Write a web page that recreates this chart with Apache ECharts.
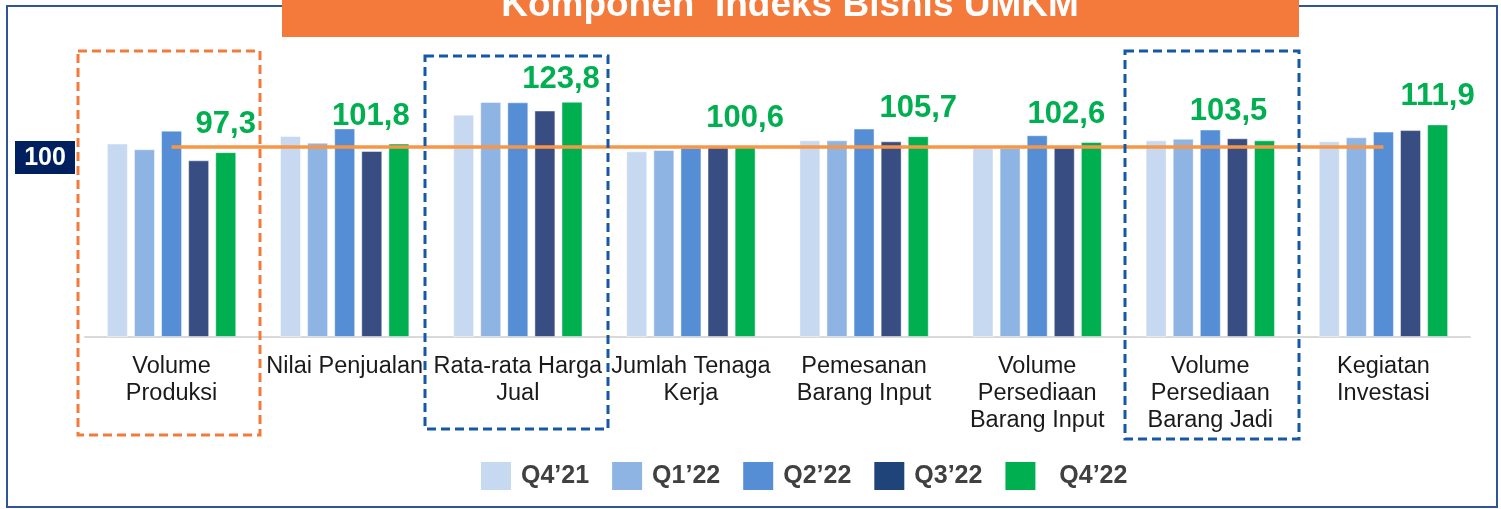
<!DOCTYPE html>
<html>
<head>
<meta charset="utf-8">
<script src="https://cdn.jsdelivr.net/npm/echarts@6/dist/echarts.min.js"></script>
<style>
  html, body { margin: 0; padding: 0; background: #fff; }
  #chart { width: 1501px; height: 509px; }
</style>
</head>
<body>
<div id="chart"></div>
<script>
// kategori komponen
var categories = [
    'Volume\nProduksi',
    'Nilai Penjualan',
    'Rata-rata Harga\nJual',
    'Jumlah Tenaga\nKerja',
    'Pemesanan\nBarang Input',
    'Volume\nPersediaan\nBarang Input',
    'Volume\nPersediaan\nBarang Jadi',
    'Kegiatan\nInvestasi'
];
var quarters = ['Q4’21', 'Q1’22', 'Q2’22', 'Q3’22', 'Q4’22'];
var q421 = [101.8, 105.8, 117.0, 97.7, 103.5, 99.5, 103.5, 103.0];
var q122 = [98.8, 102.3, 123.7, 98.4, 103.5, 99.5, 104.4, 105.1];
var q222 = [108.6, 109.8, 123.5, 99.6, 109.7, 106.2, 109.2, 108.1];
var q322 = [93.0, 97.9, 119.2, 99.9, 103.0, 99.7, 104.6, 108.9];
var q422 = [97.3, 101.8, 123.8, 100.6, 105.7, 102.6, 103.5, 111.9];
var baseline = [100, 100, 100, 100, 100, 100, 100, 100];

var barColors = ['#C6D9F1', '#8EB4E3', '#558ED5', '#384D81', '#00B050'];
var legendColors = ['#C6D9F1', '#8EB4E3', '#558ED5', '#1F4479', '#00B050'];
// geser label angka supaya tidak kena kotak putus-putus
var labelShift = [[0, 0], [-28, 0], [-11, 5], [0, 0], [0, 0], [-25, 0], [-36, -1], [0, 0]];

var chart = echarts.init(document.getElementById('chart'));
var font = 'Liberation Sans, Arial, sans-serif';

function fmt(v) {
    return v.toFixed(1).replace('.', ',');
}

var values = [q421, q122, q222, q322, q422];
var series = values.map(function (arr, i) {
    var s = {
        name: quarters[i],
        type: 'bar',
        barWidth: 21,
        barGap: '29%',
        data: arr,
        itemStyle: {
            color: barColors[i],
            borderColor: 'rgba(255,255,255,0.45)',
            borderWidth: 1
        }
    };
    if (i === 4) {
        s.data = arr.map(function (v, j) {
            return { value: v, label: { offset: labelShift[j] } };
        });
        s.label = {
            show: true,
            position: 'top',
            distance: 12,
            color: '#00B050',
            fontFamily: font,
            fontWeight: 'bold',
            fontSize: 31,
            formatter: function (p) { return fmt(p.value); }
        };
    }
    return s;
});
series.push({
    name: 'garis100',
    type: 'line',
    data: baseline,
    symbol: 'none',
    silent: true,
    z: 5,
    lineStyle: { color: '#F79646', width: 3.5 }
});

var option = {
    animation: false,
    textStyle: { fontFamily: font },
    grid: { left: 85, right: 31, top: 90, bottom: 172 },
    legend: {
        left: 481,
        top: 462,
        padding: 0,
        itemWidth: 30,
        itemHeight: 28,
        itemGap: 23,
        data: quarters.map(function (q, i) {
            return { name: q, icon: 'rect', itemStyle: { color: legendColors[i], borderWidth: 0 } };
        }),
        formatter: function (name) {
            return name === 'Q4’22' ? '  ' + name : name;
        },
        textStyle: { fontSize: 25, fontWeight: 'bold', color: '#404040', padding: [0, 0, 0, 5] }
    },
    xAxis: {
        type: 'category',
        data: categories,
        axisLine: { lineStyle: { color: '#D9D9D9', width: 2 } },
        axisTick: { show: false },
        axisLabel: {
            interval: 0,
            margin: 16,
            fontSize: 23.5,
            lineHeight: 27,
            color: '#1a1a1a',
            hideOverlap: false
        }
    },
    yAxis: {
        type: 'value',
        min: 0,
        max: 130,
        show: false,
        splitLine: { show: false }
    },
    series: series,
    graphic: [
        { type: 'rect', shape: { x: 7, y: 6, width: 1490, height: 501 },
          style: { fill: 'none', stroke: '#2F5597', lineWidth: 2 }, z: 1 },
        { type: 'rect', shape: { x: 282, y: 0, width: 1017, height: 37 },
          style: { fill: '#F47A3B' }, z: 2 },
        { type: 'text', x: 790, y: 6, z: 3,
          style: { text: 'Komponen  Indeks Bisnis UMKM', fill: '#fff', fontSize: 37, fontWeight: 'bold',
                   fontFamily: font, align: 'center', verticalAlign: 'middle' } },
        { type: 'rect', shape: { x: 78, y: 51, width: 182, height: 384 },
          style: { fill: 'none', stroke: '#F47A3B', lineWidth: 3, lineDash: [9, 5] }, z: 10 },
        { type: 'rect', shape: { x: 425, y: 56, width: 183, height: 373 },
          style: { fill: 'none', stroke: '#1558A5', lineWidth: 3, lineDash: [9, 5] }, z: 10 },
        { type: 'rect', shape: { x: 1125, y: 51, width: 174, height: 388 },
          style: { fill: 'none', stroke: '#1558A5', lineWidth: 3, lineDash: [9, 5] }, z: 10 },
        { type: 'rect', shape: { x: 15, y: 141, width: 60, height: 33 },
          style: { fill: '#002060' }, z: 10 },
        { type: 'text', x: 45, y: 158, z: 11,
          style: { text: '100', fill: '#fff', fontSize: 25, fontWeight: 'bold',
                   fontFamily: font, align: 'center', verticalAlign: 'middle' } }
    ]
};
chart.setOption(option);
</script>
</body>
</html>
